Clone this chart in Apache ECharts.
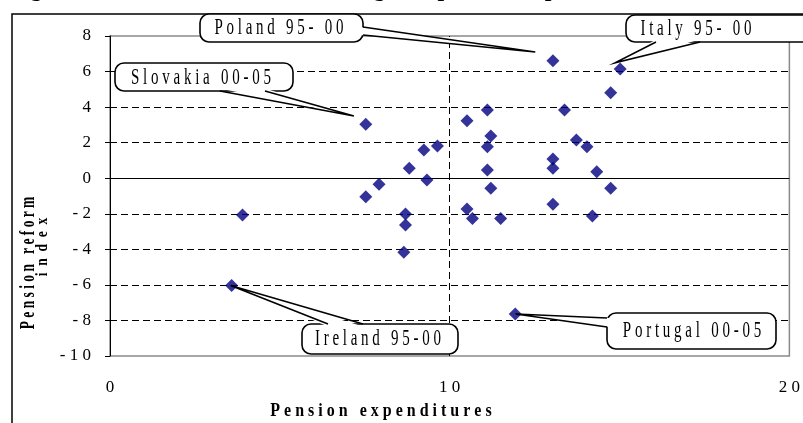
<!DOCTYPE html>
<html><head><meta charset="utf-8">
<script src="https://cdn.jsdelivr.net/npm/echarts@6/dist/echarts.min.js"></script>
<style>html,body{margin:0;padding:0;background:#fff}#c{width:803px;height:423px}</style>
</head><body><div id="c"></div>
<script>
// ---- data ----
const expenditures = [3.90,3.58,7.53,7.53,7.92,8.65,8.70,8.70,8.81,9.24,9.33,9.64,10.51,10.51,10.67,11.11,11.21,11.11,11.11,11.21,11.50,11.93,13.04,13.04,13.04,13.04,13.38,13.73,14.04,14.20,14.33,14.74,14.74,15.02];
const reformIndex  = [-2.07,-6.03,3.03,-1.04,-0.34,-4.17,-2.01,-2.63,0.56,1.59,-0.10,1.81,3.23,-1.73,-2.26,3.84,2.37,1.77,0.46,-0.57,-2.26,-7.64,6.61,1.08,0.56,-1.47,3.84,2.15,1.77,-2.13,0.37,4.81,-0.57,6.14];
const xRange = [0, 20, 10];      // min, max, interval
const yRange = [-10, 8, 2];
const xName = 'Pension expenditures';
const yName = ['Pension reform', 'index'];
const titleText = 'Figure 4. Pension reforms and changes in pension expenditure';
const calloutNames = ['Poland 95- 00','Italy 95- 00','Slovakia 00-05','Ireland 95-00','Portugal 00-05'];
const calloutTips  = [[12.52,7.10],[14.87,6.49],[7.18,3.50],[3.55,-6.03],[11.94,-7.64]];

// ---- layout (pixels) ----
const calloutLayout = [
  {box:[200,14,163,28], text:[279,28], base:[[363,27],[363,35]], n:[-1,0]},
  {box:[626,15,190,27], text:[696,29], base:[[656,42],[700,42]], n:[0,-1]},
  {box:[115,63,178,28], text:[201,78], base:[[220,91],[265,91]], n:[0,-1]},
  {box:[302,324,156,30], text:[378,339], base:[[328,324],[363,324]], n:[0,1]},
  {box:[607,313,169,36], text:[692,331], base:[[607,318],[607,327]], n:[1,0]}
];
const spaced = (s, sep) => s.split('').join(sep || ' ');
const serif = 'Liberation Serif, Times New Roman, serif';

const chart = echarts.init(document.getElementById('c'));
const nY = Math.round((yRange[1]-yRange[0])/yRange[2]) + 1;
const splitColors = [];
for (let i = 0; i < nY; i++) splitColors.push(i === 0 || i === nY-1 ? 'rgba(0,0,0,0)' : '#000');

chart.setOption({
  animation: false,
  backgroundColor: '#fff',
  grid: {left:110, right:10, top:36, bottom:67, show:true, borderColor:'#8a8a8a', borderWidth:1.5, backgroundColor:'transparent'},
  xAxis: {
    type:'value', min:xRange[0], max:xRange[1], interval:xRange[2],
    axisLine:{show:false}, axisTick:{show:false}, splitLine:{show:false},
    axisLabel:{margin:23, fontFamily:serif, fontSize:17, color:'#000', formatter: v => spaced(String(v))}
  },
  yAxis: {
    type:'value', min:yRange[0], max:yRange[1], interval:yRange[2],
    axisLine:{show:true, onZero:false, lineStyle:{color:'#000', width:1}},
    axisTick:{show:true, inside:false, length:5, lineStyle:{color:'#000'}},
    splitLine:{show:true, lineStyle:{color:splitColors, type:[7,4], width:1}},
    axisLabel:{margin:19, fontFamily:serif, fontSize:17, color:'#000', formatter: v => spaced(String(v))}
  },
  series: [{
    type:'scatter',
    data: expenditures.map((x,i)=>[x, reformIndex[i]]),
    symbol:'diamond', symbolSize:13,
    itemStyle:{color:'#000080'},
    z: 5,
    markLine:{
      silent:true, symbol:'none', label:{show:false}, animation:false,
      data:[
        {yAxis:0, lineStyle:{type:'solid', color:'#000', width:1}},
        {xAxis:10, lineStyle:{type:[7,4], color:'#000', width:1}}
      ]
    }
  }]
});

// annotations
const txt = (o) => Object.assign({fill:'#000', fontFamily:serif, align:'center', verticalAlign:'middle', textAlign:'center', textVerticalAlign:'middle'}, o);
const els = [];
els.push({type:'rect', z:1, shape:{x:12,y:14,width:830,height:460}, style:{fill:'transparent', stroke:'#000', lineWidth:1.5}});
els.push({type:'text', z:1, x:9, y:-10, style:txt({text:titleText, fontSize:24, fontWeight:'bold', align:'left', textAlign:'left'})});
els.push({type:'text', z:20, x:381, y:411, scaleY:1.15, style:txt({text:spaced(xName), fontSize:16, fontWeight:'bold'})});
els.push({type:'text', z:20, x:28.5, y:263, rotation:Math.PI/2, scaleY:1.5, style:txt({text:spaced(yName[0]), fontSize:13.5, fontWeight:'bold'})});
els.push({type:'text', z:20, x:42, y:247, rotation:Math.PI/2, scaleY:1.3, style:txt({text:spaced(yName[1], '  '), fontSize:13.5, fontWeight:'bold'})});

calloutNames.forEach((name,i)=>{
  const L = calloutLayout[i];
  const tip = chart.convertToPixel({gridIndex:0}, calloutTips[i]);
  const [b1,b2] = L.base;
  const inset = p => [p[0]+L.n[0]*2.5, p[1]+L.n[1]*2.5];
  els.push({type:'rect', z:30, shape:{x:L.box[0], y:L.box[1], width:L.box[2], height:L.box[3], r:9}, style:{fill:'#fff', stroke:'#000', lineWidth:1.6}});
  els.push({type:'polygon', z:31, shape:{points:[inset(b1), tip, inset(b2)]}, style:{fill:'#fff', stroke:null, lineWidth:0}});
  els.push({type:'polyline', z:32, shape:{points:[b1, tip, b2]}, style:{fill:null, stroke:'#000', lineWidth:1.6}});
  els.push({type:'text', z:33, x:L.text[0], y:L.text[1], scaleY:1.6, style:txt({text:spaced(name), fontSize:15})});
});
chart.setOption({graphic:{elements:els}});
</script>
</body></html>
